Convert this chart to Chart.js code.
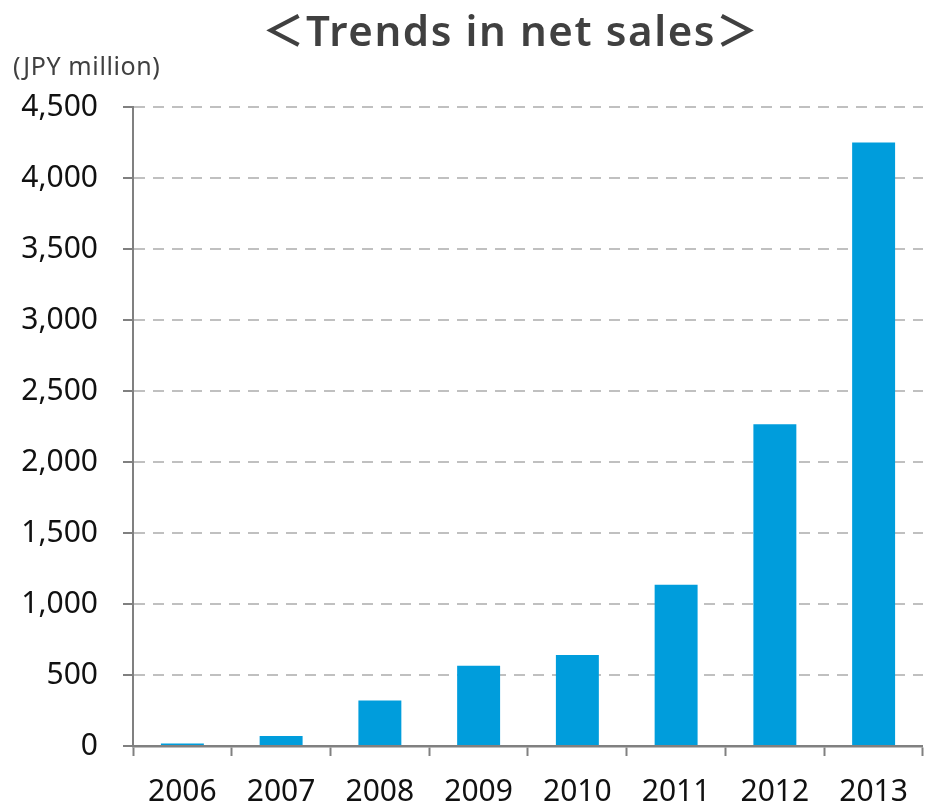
<!DOCTYPE html>
<html>
<head>
<meta charset="utf-8">
<title>Trends in net sales</title>
<script src="https://cdn.jsdelivr.net/npm/chart.js@4"></script>
<style>
  html, body { margin: 0; padding: 0; background: #fff; }
  #wrap { width: 926px; height: 804px; position: relative; }
</style>
</head>
<body>
<div id="wrap"><canvas id="salesChart"></canvas></div>
<script>
// Net sales by fiscal year (JPY million)
const years = ['2006', '2007', '2008', '2009', '2010', '2011', '2012', '2013'];
const netSales = [18, 70, 320, 565, 640, 1135, 2265, 4250];

const titleText = '＜Trends in net sales＞';
const unitText = '(JPY million)';

const numFont = '"Noto Sans", "DejaVu Sans", sans-serif';

// title and unit label drawn above the plot
const headerText = {
  id: 'headerText',
  afterDraw(chart) {
    const ctx = chart.ctx;
    ctx.save();
    ctx.fillStyle = '#404040';
    ctx.textBaseline = 'alphabetic';
    ctx.textAlign = 'center';
    ctx.font = '600 42px "Noto Sans", "Noto Sans CJK JP", sans-serif';
    ctx.letterSpacing = '1.6px';
    ctx.fillText(titleText, 511, 46);
    ctx.textAlign = 'left';
    ctx.font = '25px ' + numFont;
    ctx.letterSpacing = '0.6px';
    ctx.fillText(unitText, 13, 75);
    ctx.restore();
  }
};

const ctx = document.getElementById('salesChart').getContext('2d');
const salesChart = new Chart(ctx, {
  type: 'bar',
  data: {
    labels: years,
    datasets: [{
      label: 'Net sales',
      data: netSales,
      backgroundColor: '#009ddc',
      borderWidth: 0,
      categoryPercentage: 1.0,
      barPercentage: 0.435
    }]
  },
  options: {
    responsive: true,
    maintainAspectRatio: false,
    animation: false,
    layout: { padding: { top: 107, right: 1, left: 0, bottom: 0 } },
    plugins: {
      legend: { display: false },
      tooltip: { enabled: false }
    },
    scales: {
      x: {
        afterFit(scale) { scale.height = 58; },
        grid: {
          drawOnChartArea: false,
          drawTicks: true,
          tickLength: 10,
          tickColor: '#808080',
          tickWidth: 2,
          offset: true
        },
        border: { color: '#808080', width: 2.5 },
        ticks: {
          color: '#111',
          padding: 18,
          font: { family: numFont, size: 30 }
        }
      },
      y: {
        min: 0,
        max: 4500,
        afterFit(scale) { scale.width = 133; },
        grid: {
          color: '#c0c0c0',
          lineWidth: 2,
          tickLength: 10,
          tickColor: '#808080',
          tickWidth: 2
        },
        border: { color: '#808080', width: 2, dash: [11, 8] },
        ticks: {
          stepSize: 500,
          color: '#111',
          padding: 25,
          font: { family: numFont, size: 30 },
          callback: v => v.toLocaleString('en-US')
        }
      }
    }
  },
  plugins: [headerText]
});
</script>
</body>
</html>
